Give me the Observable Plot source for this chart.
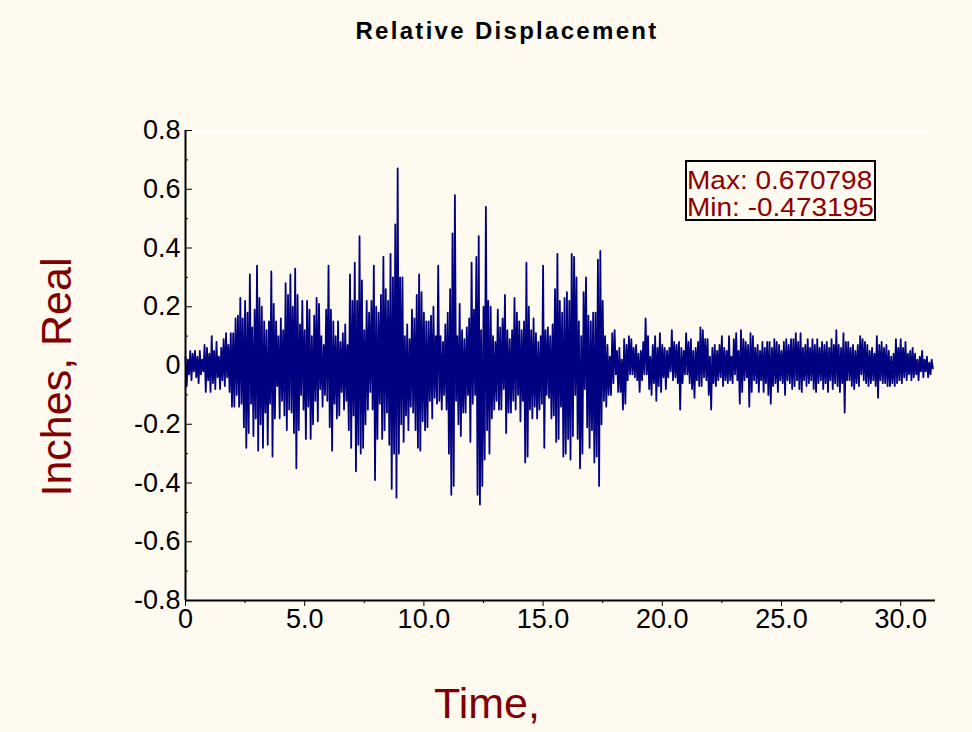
<!DOCTYPE html>
<html>
<head>
<meta charset="utf-8">
<script src="https://cdn.jsdelivr.net/npm/d3@7"></script>
<script src="https://cdn.jsdelivr.net/npm/@observablehq/plot@0.6"></script>
<style>
  html, body { margin: 0; padding: 0; background: #FEFAF0; }
  #wrap { position: relative; width: 972px; height: 732px; background: #FEFAF0; overflow: hidden; font-family: "Liberation Sans", Arial, sans-serif; }
  #chart { position: absolute; left: 0; top: 0; }
  .title { position: absolute; left: 507px; top: 17px; transform: translateX(-50%); font-weight: bold; font-size: 24px; letter-spacing: 2.3px; white-space: nowrap; color: #000; }
  .ylab { position: absolute; left: 56px; top: 377px; transform: translate(-50%, -50%) rotate(-90deg); font-size: 43px; color: #800000; white-space: nowrap; }
  .xlab { position: absolute; left: 487px; top: 679px; transform: translateX(-50%); font-size: 43px; color: #800000; white-space: nowrap; }
  .legend { position: absolute; left: 685px; top: 160px; width: 187px; height: 57px; border: 2px solid #000; }
  .legend div { position: absolute; left: 0px; font-size: 25px; color: #8B0000; white-space: nowrap; line-height: 28px; transform: scaleX(1.12); transform-origin: 0 50%; }
</style>
</head>
<body>
<div id="wrap">
  <div id="chart"></div>
  <div class="title">Relative Displacement</div>
  <div class="ylab">Inches, Real</div>
  <div class="xlab">Time,</div>
  <div class="legend"><div id="lmax" style="top:4px"></div><div id="lmin" style="top:31px"></div></div>
</div>
<script>
// Sampling interval of the envelope bins (seconds)
const binStep = 0.1;

// Upper peaks per 0.1 s bin (inches)
const peaks = [
  0.03,0.02,0.05,0.04,0.05,0.03,0.05,0.02,0.07,0.06,
  0.04,0.10,0.05,0.08,0.03,0.06,0.09,0.11,0.07,0.11,
  0.11,0.16,0.17,0.23,0.16,0.22,0.18,0.31,0.13,0.19,
  0.34,0.23,0.20,0.15,0.12,0.15,0.32,0.21,0.15,0.10,
  0.16,0.12,0.28,0.24,0.31,0.20,0.33,0.24,0.14,0.22,
  0.12,0.22,0.19,0.10,0.17,0.23,0.21,0.10,0.07,0.19,
  0.34,0.19,0.15,0.10,0.15,0.08,0.11,0.14,0.07,0.31,
  0.22,0.35,0.22,0.44,0.29,0.12,0.22,0.18,0.22,0.34,
  0.20,0.18,0.24,0.37,0.26,0.22,0.38,0.30,0.48,0.670798,
  0.30,0.30,0.10,0.14,0.09,0.19,0.16,0.24,0.31,0.25,
  0.18,0.15,0.15,0.17,0.20,0.10,0.34,0.10,0.08,0.14,
  0.18,0.26,0.45,0.58,0.10,0.21,0.12,0.09,0.13,0.16,
  0.35,0.19,0.37,0.44,0.12,0.20,0.54,0.22,0.20,0.10,
  0.08,0.19,0.13,0.16,0.24,0.12,0.09,0.12,0.23,0.18,
  0.15,0.12,0.15,0.35,0.20,0.12,0.16,0.11,0.08,0.10,
  0.34,0.12,0.13,0.10,0.14,0.26,0.38,0.22,0.18,0.23,
  0.25,0.22,0.38,0.37,0.30,0.15,0.10,0.25,0.30,0.17,
  0.15,0.18,0.18,0.36,0.39,0.22,0.10,0.07,0.03,0.11,
  0.12,0.05,0.06,0.02,0.09,0.07,0.10,0.09,0.06,0.07,
  0.04,0.05,0.08,0.16,0.10,0.03,0.07,0.10,0.06,0.11,
  0.07,0.06,0.05,0.06,0.12,0.08,0.07,0.08,0.06,0.05,
  0.11,0.08,0.09,0.05,0.06,0.08,0.13,0.12,0.09,0.09,
  0.03,0.06,0.07,0.05,0.07,0.10,0.06,0.05,0.10,0.03,
  0.09,0.11,0.05,0.12,0.09,0.08,0.07,0.11,0.10,0.06,
  0.07,0.05,0.08,0.06,0.08,0.08,0.06,0.09,0.08,0.07,
  0.05,0.08,0.09,0.07,0.09,0.09,0.11,0.08,0.11,0.06,
  0.07,0.09,0.06,0.09,0.07,0.09,0.06,0.08,0.07,0.08,
  0.06,0.09,0.07,0.12,0.07,0.06,0.11,0.08,0.08,0.06,
  0.07,0.05,0.07,0.10,0.09,0.08,0.07,0.05,0.06,0.04,
  0.10,0.07,0.08,0.06,0.07,0.05,0.03,0.04,0.09,0.06,
  0.09,0.06,0.08,0.04,0.05,0.06,0.04,0.02,0.03,0.05,
  0.02,0.03,0.01,0.02
];

// Lower troughs per 0.1 s bin (inches)
const troughs = [
  -0.07,-0.03,-0.05,-0.02,-0.04,-0.06,-0.03,-0.02,-0.09,-0.05,
  -0.09,-0.06,-0.08,-0.04,-0.08,-0.05,-0.07,-0.04,-0.09,-0.14,
  -0.14,-0.10,-0.14,-0.13,-0.21,-0.28,-0.23,-0.13,-0.24,-0.18,
  -0.29,-0.20,-0.28,-0.16,-0.27,-0.13,-0.31,-0.18,-0.07,-0.18,
  -0.12,-0.17,-0.22,-0.15,-0.16,-0.23,-0.35,-0.22,-0.10,-0.15,
  -0.25,-0.14,-0.25,-0.20,-0.12,-0.19,-0.08,-0.14,-0.10,-0.12,
  -0.21,-0.29,-0.13,-0.18,-0.17,-0.09,-0.15,-0.12,-0.22,-0.28,
  -0.17,-0.36,-0.27,-0.30,-0.28,-0.20,-0.15,-0.09,-0.15,-0.39,
  -0.25,-0.13,-0.25,-0.22,-0.16,-0.27,-0.42,-0.30,-0.45,-0.30,
  -0.20,-0.26,-0.17,-0.22,-0.14,-0.16,-0.22,-0.28,-0.29,-0.19,
  -0.22,-0.21,-0.12,-0.18,-0.11,-0.13,-0.12,-0.15,-0.10,-0.15,
  -0.30,-0.44,-0.41,-0.12,-0.20,-0.24,-0.16,-0.16,-0.10,-0.26,
  -0.13,-0.10,-0.44,-0.473195,-0.41,-0.32,-0.22,-0.30,-0.18,-0.15,
  -0.12,-0.15,-0.15,-0.08,-0.23,-0.16,-0.16,-0.12,-0.15,-0.10,
  -0.19,-0.12,-0.33,-0.31,-0.15,-0.18,-0.14,-0.18,-0.15,-0.13,
  -0.28,-0.10,-0.11,-0.18,-0.17,-0.26,-0.25,-0.14,-0.31,-0.30,
  -0.25,-0.32,-0.24,-0.10,-0.25,-0.35,-0.30,-0.08,-0.21,-0.28,
  -0.22,-0.33,-0.31,-0.41,-0.20,-0.12,-0.14,-0.10,-0.10,-0.06,
  -0.03,-0.09,-0.09,-0.15,-0.13,-0.05,-0.03,-0.03,-0.04,-0.05,
  -0.09,-0.05,-0.03,-0.03,-0.08,-0.10,-0.06,-0.12,-0.07,-0.09,
  -0.04,-0.08,-0.04,-0.02,-0.05,-0.04,-0.06,-0.15,-0.06,-0.03,
  -0.03,-0.06,-0.08,-0.11,-0.05,-0.07,-0.07,-0.04,-0.05,-0.10,
  -0.15,-0.06,-0.07,-0.05,-0.04,-0.07,-0.05,-0.06,-0.05,-0.06,
  -0.03,-0.05,-0.13,-0.09,-0.05,-0.04,-0.14,-0.09,-0.05,-0.06,
  -0.09,-0.05,-0.09,-0.06,-0.10,-0.13,-0.07,-0.06,-0.09,-0.05,
  -0.06,-0.10,-0.05,-0.06,-0.08,-0.07,-0.05,-0.08,-0.09,-0.05,
  -0.07,-0.06,-0.05,-0.08,-0.09,-0.06,-0.05,-0.08,-0.06,-0.09,
  -0.05,-0.08,-0.06,-0.07,-0.09,-0.06,-0.16,-0.05,-0.05,-0.07,
  -0.08,-0.06,-0.07,-0.03,-0.05,-0.06,-0.07,-0.06,-0.05,-0.07,
  -0.11,-0.05,-0.06,-0.06,-0.07,-0.07,-0.06,-0.07,-0.06,-0.05,
  -0.06,-0.04,-0.05,-0.03,-0.05,-0.04,-0.03,-0.05,-0.02,-0.04,
  -0.02,-0.04,-0.03,-0.01
];

const xDomain = [0, 31.46];
const xMajorTicks = [0, 5, 10, 15, 20, 25, 30];
const xMinorTicks = [2.5, 7.5, 12.5, 17.5, 22.5, 27.5];
const yMajorTicks = [-0.8, -0.6, -0.4, -0.2, 0, 0.2, 0.4, 0.6, 0.8];
const yMinorTicks = [-0.7, -0.5, -0.3, -0.1, 0.1, 0.3, 0.5, 0.7];
const maxLabel = "Max: 0.670798";
const minLabel = "Min: -0.473195";

// interleave peaks and troughs into one time series
const series = [];
for (let i = 0; i < peaks.length; i++) {
  series.push({t: i * binStep, v: peaks[i]});
  series.push({t: i * binStep + binStep / 2, v: troughs[i]});
}

const fmtX = d => d === 0 ? "0" : d.toFixed(1);
const fmtY = d => d === 0 ? "0" : d.toFixed(1).replace("\u2212", "-");

const chart = Plot.plot({
  width: 972,
  height: 732,
  marginLeft: 185,
  marginRight: 37,
  marginTop: 130,
  marginBottom: 132,
  style: {background: "transparent", fontFamily: "Liberation Sans, Arial, sans-serif", fontSize: "27px", color: "#000"},
  x: {domain: xDomain},
  y: {domain: [yMajorTicks[0], yMajorTicks[yMajorTicks.length - 1]]},
  marks: [
    Plot.ruleY([yMajorTicks[yMajorTicks.length - 1]], {stroke: "#ffffff", strokeWidth: 2}),
    Plot.line(series, {x: "t", y: "v", stroke: "#000080", strokeWidth: 1.8}),
    Plot.axisX(xMajorTicks, {tickSize: 6, tickPadding: 2, tickFormat: fmtX, fontSize: 27, label: null, stroke: "#000"}),
    Plot.axisX(xMinorTicks, {tickSize: 3, tickFormat: () => "", label: null}),
    Plot.axisY(yMajorTicks, {tickSize: -7, tickPadding: 12, tickFormat: fmtY, fontSize: 27, label: null}),
    Plot.axisY(yMinorTicks, {tickSize: -3, tickFormat: () => "", label: null}),
    Plot.ruleX([xDomain[0]], {stroke: "#000", strokeWidth: 2}),
    Plot.ruleY([yMajorTicks[0]], {stroke: "#000", strokeWidth: 2})
  ]
});
document.getElementById("chart").appendChild(chart);
document.getElementById("lmax").textContent = maxLabel;
document.getElementById("lmin").textContent = minLabel;
</script>
</body>
</html>
